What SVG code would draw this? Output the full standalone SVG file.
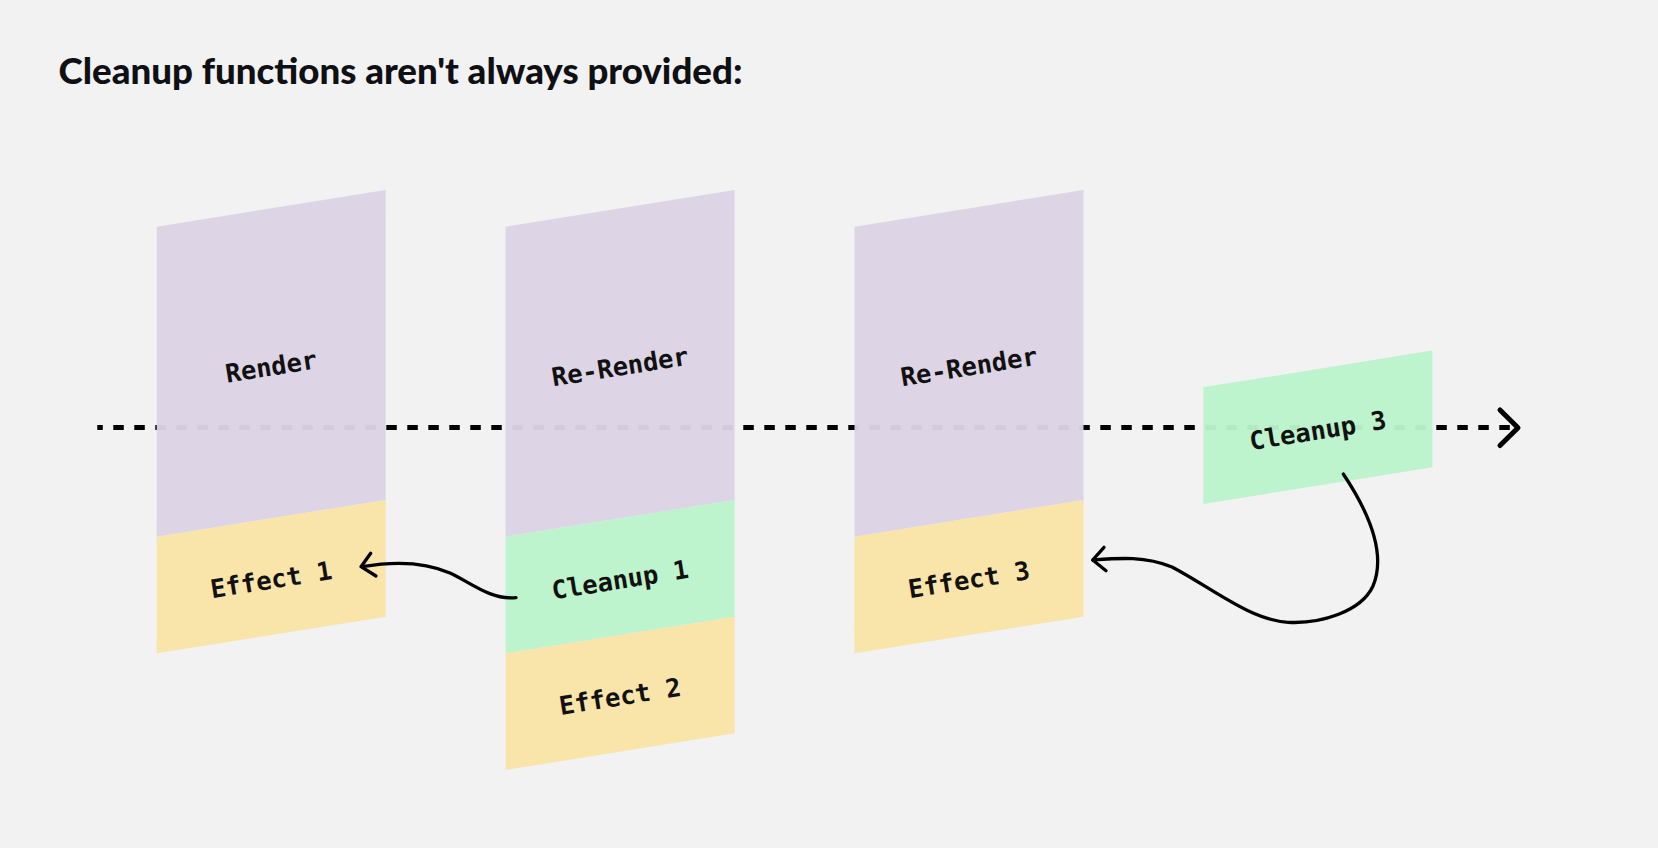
<svg xmlns="http://www.w3.org/2000/svg" width="1658" height="848" viewBox="0 0 1658 848">
  <defs>
    <style>
      .bg { fill: #F2F2F2; }
      .title { font-family: Lato, "Noto Sans", "Liberation Sans", sans-serif; font-weight: 900; font-size: 36px; fill: #0F1014; }
      .lbl { font-family: "DejaVu Sans Mono", "Liberation Mono", monospace; font-weight: 700; font-size: 25.5px; fill: #111111; text-anchor: middle; }
      .purple { fill: #DCD3E5; fill-opacity: 0.96; }
      .yellow { fill: #F9E3A5; fill-opacity: 0.96; }
      .green { fill: #BAF2CB; fill-opacity: 0.96; }
      .timeline { fill: none; stroke: #000; stroke-width: 5; stroke-dasharray: 10.5 10.5; stroke-dashoffset: 5; }
      .head { fill: none; stroke: #000; stroke-width: 5; stroke-linecap: round; stroke-linejoin: round; }
      .conn { fill: none; stroke: #000; stroke-width: 3.3; stroke-linecap: round; stroke-linejoin: round; }
    </style>
  </defs>
  <rect class="bg" x="0" y="0" width="1658" height="848"/>
  <text class="title" x="58.5" y="84" textLength="684" lengthAdjust="spacingAndGlyphs">Cleanup functions aren't always provided:</text>

  <g id="timeline">
    <path class="timeline" d="M97.3 427.5 H1514"/>
    <polyline class="head" points="1500,410 1518,427.7 1500,445.5"/>
  </g>

  <g id="render">
    <polygon class="purple" points="156.7,226.7 385.7,190 385.7,500 156.7,536.7"/>
    <text class="lbl" x="271.2" y="375.5" transform="rotate(-9.1 271.2 366.8)">Render</text>
  </g>
  <g id="effect1">
    <polygon class="yellow" points="156.7,536.7 385.7,500 385.7,616.7 156.7,653.3"/>
    <text class="lbl" x="271.2" y="588.7" transform="rotate(-9.1 271.2 580)">Effect 1</text>
  </g>

  <g id="rerender1">
    <polygon class="purple" points="505.6,226.7 734.6,190 734.6,500 505.6,536.7"/>
    <text class="lbl" x="620.1" y="375.5" transform="rotate(-9.1 620.1 366.8)">Re-Render</text>
  </g>
  <g id="cleanup1">
    <polygon class="green" points="505.6,536.7 734.6,500 734.6,616.7 505.6,653.3"/>
    <text class="lbl" x="620.1" y="588.7" transform="rotate(-9.1 620.1 580)">Cleanup 1</text>
  </g>
  <g id="effect2">
    <polygon class="yellow" points="505.6,653.3 734.6,616.7 734.6,733.3 505.6,770"/>
    <text class="lbl" x="620.1" y="705.4" transform="rotate(-9.1 620.1 696.7)">Effect 2</text>
  </g>

  <g id="rerender2">
    <polygon class="purple" points="854.5,226.7 1083.5,190 1083.5,500 854.5,536.7"/>
    <text class="lbl" x="969" y="375.5" transform="rotate(-9.1 969 366.8)">Re-Render</text>
  </g>
  <g id="effect3">
    <polygon class="yellow" points="854.5,536.7 1083.5,500 1083.5,616.7 854.5,653.3"/>
    <text class="lbl" x="969" y="588.7" transform="rotate(-9.1 969 580)">Effect 3</text>
  </g>

  <g id="cleanup3">
    <polygon class="green" points="1203.4,387.3 1432.4,350.6 1432.4,467.3 1203.4,504"/>
    <text class="lbl" x="1317.9" y="439.4" transform="rotate(-9.1 1317.9 430.7)">Cleanup 3</text>
  </g>

  <g id="connectors">
    <path class="conn" d="M516 597.7 C490 600 470 582 450 573 C425 562 395 561 362 566.7"/>
    <polyline class="conn" points="370.7,553.3 361,566.7 376,576"/>
    <path class="conn" d="M1343.3 474 C1370 514 1386 555 1373 586 C1361 612 1320 624 1288 622.3 C1250 620 1212 588 1172 567 C1145 556 1120 558 1093 560"/>
    <polyline class="conn" points="1104,547.3 1092.7,560 1106,570.7"/>
  </g>
</svg>
